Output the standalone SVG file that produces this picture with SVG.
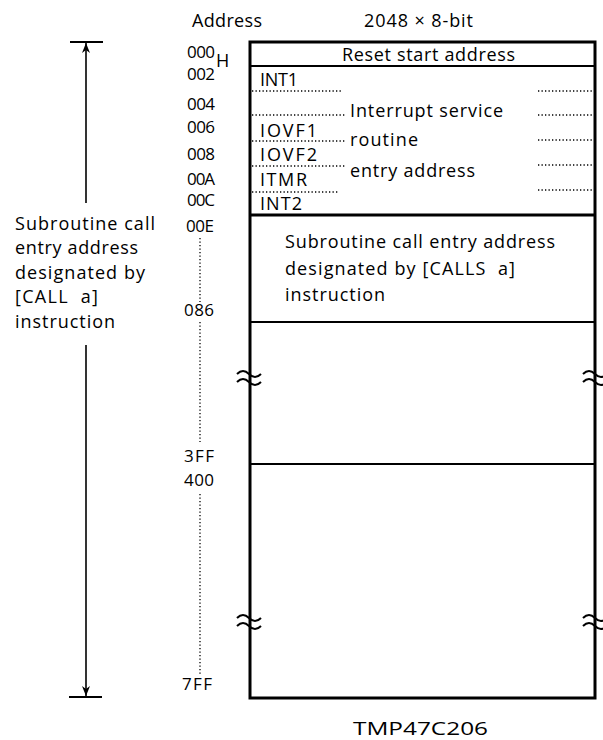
<svg xmlns="http://www.w3.org/2000/svg" width="603" height="740" viewBox="0 0 603 740">
<style>
text{font-family:"Open Sans","Noto Sans","Liberation Sans",sans-serif;font-size:18px;fill:#000}
.addr{font-size:17px}
.thick{stroke:#000;stroke-width:3;fill:none}
.mid{stroke:#000;stroke-width:2;fill:none}
.dot{stroke:#000;stroke-width:1.3;stroke-dasharray:1.3 2.2;fill:none}
.wave{stroke:#000;stroke-width:2;fill:none}
</style>
<defs>
<marker id="ah" viewBox="0 0 10 10" refX="10" refY="5" markerWidth="10" markerHeight="10" markerUnits="userSpaceOnUse" orient="auto">
<path d="M0,1 L10,5 L0,9 L3,5 Z" fill="#000"/>
</marker>
</defs>
<g id="headers">
<text x="192" y="27" textLength="70">Address</text>
<text x="364" y="27" textLength="109">2048 × 8-bit</text>
</g>
<g id="memory-map">
<rect x="250" y="42" width="345" height="656" class="thick"/>
<line x1="250" y1="66" x2="595" y2="66" class="mid"/>
<line x1="250" y1="215" x2="595" y2="215" class="thick"/>
<line x1="250" y1="322" x2="595" y2="322" class="mid"/>
<line x1="250" y1="464" x2="595" y2="464" class="mid"/>
</g>
<g id="reset">
<text x="342" y="61" textLength="173">Reset start address</text>
</g>
<g id="interrupt">
<text x="260" y="86" textLength="38">INT1</text>
<text x="260" y="137" textLength="57">IOVF1</text>
<text x="260" y="161" textLength="57">IOVF2</text>
<text x="260" y="186" textLength="47">ITMR</text>
<text x="260" y="210" textLength="42">INT2</text>
<text x="350" y="117" textLength="153">Interrupt service</text>
<text x="350" y="146" textLength="68">routine</text>
<text x="350" y="177" textLength="125">entry address</text>
<path class="dot" d="M252,91H342M252,115H345M252,141H345M252,166H345M252,192H338M538,91H592M538,115H592M538,140H592M538,165H592M538,190H592"/>
</g>
<g id="subroutine">
<text x="285" y="248" textLength="270">Subroutine call entry address</text>
<text x="285" y="275" textLength="230" xml:space="preserve">designated by [CALLS  a]</text>
<text x="285" y="301" textLength="100">instruction</text>
</g>
<g id="breaks">
<path class="wave" d="M237,374 q6,-6 12,0 t12,0 M237,382 q6,-6 12,0 t12,0"/>
<path class="wave" d="M237,618 q6,-6 12,0 t12,0 M237,626 q6,-6 12,0 t12,0"/>
<path class="wave" d="M583,374 q6,-6 12,0 t12,0 M583,382 q6,-6 12,0 t12,0"/>
<path class="wave" d="M583,618 q6,-6 12,0 t12,0 M583,626 q6,-6 12,0 t12,0"/>
</g>
<g id="addresses">
<text class="addr" x="187" y="58" textLength="28">000</text>
<text x="216" y="67" font-size="9">H</text>
<text class="addr" x="187" y="80" textLength="28">002</text>
<text class="addr" x="187" y="110" textLength="28">004</text>
<text class="addr" x="187" y="133" textLength="28">006</text>
<text class="addr" x="187" y="160" textLength="28">008</text>
<text class="addr" x="187" y="185" textLength="28">00A</text>
<text class="addr" x="187" y="206" textLength="28">00C</text>
<text class="addr" x="186" y="232" textLength="28">00E</text>
<text class="addr" x="184" y="316" textLength="30">086</text>
<text class="addr" x="184" y="462" textLength="30">3FF</text>
<text class="addr" x="184" y="486" textLength="30">400</text>
<text class="addr" x="182" y="690" textLength="30">7FF</text>
<path class="dot" d="M200,238V302M200,322V442M200,494V674"/>
</g>
<g id="left-label">
<text x="15" y="230" textLength="140">Subroutine call</text>
<text x="15" y="254" textLength="123">entry address</text>
<text x="15" y="279" textLength="130">designated by</text>
<text x="15" y="303" textLength="83" xml:space="preserve">[CALL  a]</text>
<text x="15" y="328" textLength="100">instruction</text>
</g>
<g id="connectors">
<line x1="70" y1="42" x2="103" y2="42" class="mid"/>
<line x1="69" y1="697" x2="102" y2="697" class="mid"/>
<line x1="86" y1="203" x2="86" y2="43" stroke="#000" stroke-width="1.6" marker-end="url(#ah)"/>
<line x1="86" y1="345" x2="86" y2="696" stroke="#000" stroke-width="1.6" marker-end="url(#ah)"/>
</g>
<g id="title">
<text x="353" y="735" font-size="22" textLength="135" lengthAdjust="spacingAndGlyphs">TMP47C206</text>
</g>
</svg>
